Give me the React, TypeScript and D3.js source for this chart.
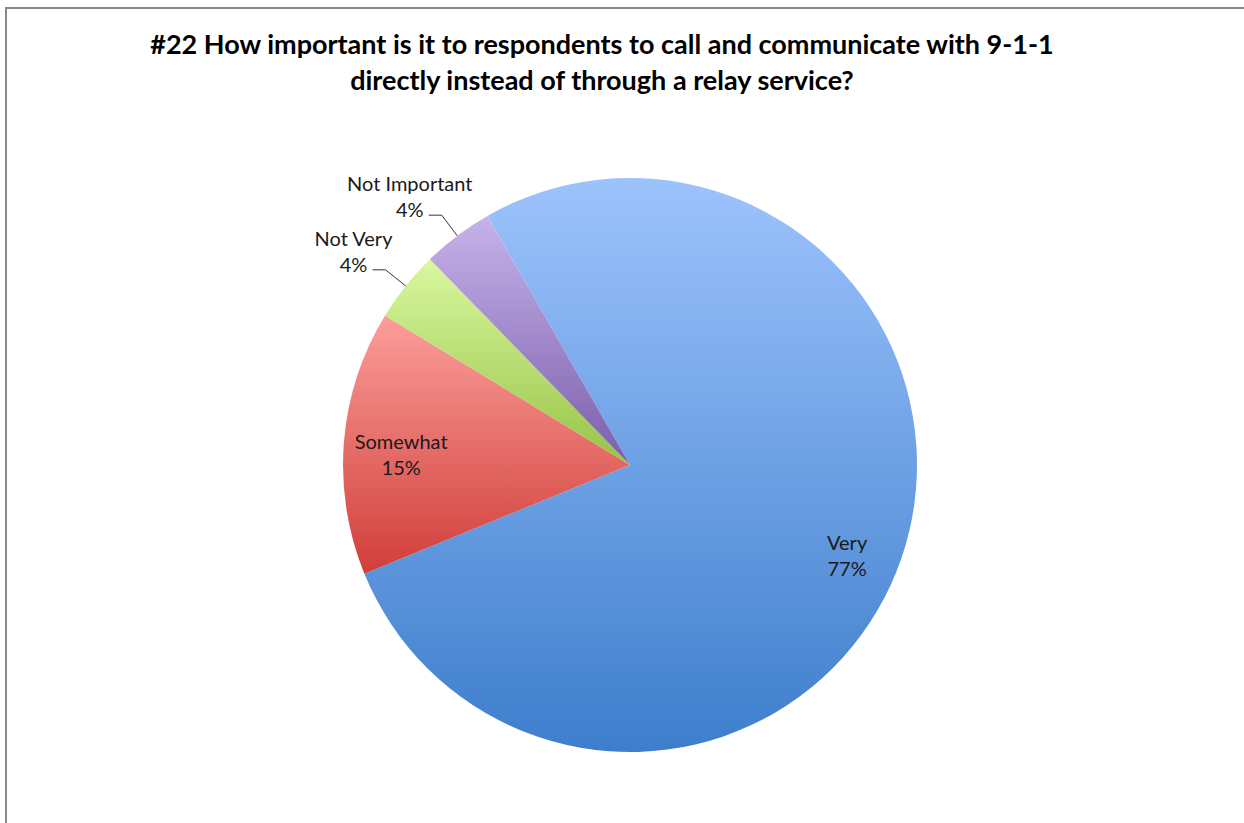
import React, { useEffect, useRef } from "react";
import * as d3 from "d3";

const W = 1244;
const H = 823;

const titleLines = [
  "#22 How important is it to respondents to call and communicate with 9-1-1",
  "directly instead of through a relay service?",
];

const categories = ["Very", "Somewhat", "Not Very", "Not Important"];
const values = [77.1, 14.9, 4.0, 4.0];
const labelTexts = ["77%", "15%", "4%", "4%"];
const outsideLabel = [false, false, true, true];
const topColors = ["#9dc3fc", "#fb9e9a", "#d9f8a0", "#c7b2ea"];
const bottomColors = ["#3d7ecc", "#d13e3a", "#97c346", "#7a5eab"];

const START_DEG = -29.8;

export default function App() {
  const ref = useRef<SVGSVGElement | null>(null);

  useEffect(() => {
    document.body.style.margin = "0";
    const svg = d3.select(ref.current);
    svg.selectAll("*").remove();

    const font = "Lato, 'Open Sans', sans-serif";
    const cx = 630;
    const cy = 465;
    const r = 287;

    const defs = svg.append("defs");
    categories.forEach((c, i) => {
      const g = defs
        .append("linearGradient")
        .attr("id", "grad" + i)
        .attr("x1", 0)
        .attr("y1", 0)
        .attr("x2", 0)
        .attr("y2", 1);
      g.append("stop").attr("offset", "0%").attr("stop-color", topColors[i]);
      g.append("stop").attr("offset", "100%").attr("stop-color", bottomColors[i]);
    });

    svg
      .append("rect")
      .attr("x", 0)
      .attr("y", 0)
      .attr("width", W)
      .attr("height", H)
      .attr("fill", "#ffffff");

    svg
      .append("rect")
      .attr("x", 6)
      .attr("y", 8)
      .attr("width", W + 20)
      .attr("height", H + 20)
      .attr("fill", "none")
      .attr("stroke", "#888888")
      .attr("stroke-width", 2);

    const title = svg
      .append("text")
      .attr("text-anchor", "middle")
      .attr("font-family", font)
      .attr("font-weight", "bold")
      .attr("font-size", 27)
      .attr("fill", "#000");
    titleLines.forEach((t, i) => {
      title
        .append("tspan")
        .attr("x", 602)
        .attr("y", 54 + i * 36)
        .text(t);
    });

    const start = (START_DEG * Math.PI) / 180;
    const pie = d3
      .pie<number>()
      .sort(null)
      .value((d) => d)
      .startAngle(start)
      .endAngle(start + 2 * Math.PI);
    const arcs = pie(values);
    const arc = d3.arc<d3.PieArcDatum<number>>().innerRadius(0).outerRadius(r);

    const g = svg.append("g").attr("transform", `translate(${cx},${cy})`);
    g.selectAll("path.slice")
      .data(arcs)
      .enter()
      .append("path")
      .attr("class", "slice")
      .attr("d", arc as any)
      .attr("fill", (_d, i) => `url(#grad${i})`);

    const inLabelArc = d3
      .arc<d3.PieArcDatum<number>>()
      .innerRadius(r * 0.8)
      .outerRadius(r * 0.8);
    const labelDy = [8, 0];

    arcs.forEach((a, i) => {
      if (!outsideLabel[i]) {
        const [x, y0] = inLabelArc.centroid(a);
        const y = y0 + labelDy[i];
        const t = g
          .append("text")
          .attr("text-anchor", "middle")
          .attr("font-family", font)
          .attr("font-size", 20)
          .attr("fill", "#1a1a1a");
        t.append("tspan").attr("x", x).attr("y", y + 2).text(categories[i]);
        t.append("tspan").attr("x", x).attr("y", y + 28).text(labelTexts[i]);
      } else {
        const mid = (a.startAngle + a.endAngle) / 2;
        const ex = Math.sin(mid) * r;
        const ey = -Math.cos(mid) * r;
        const kx = Math.sin(mid) * r * 1.09;
        const ky = -Math.cos(mid) * r * 1.09;
        const hx = kx - 13;
        g.append("path")
          .attr("d", `M${ex},${ey}L${kx},${ky}L${hx},${ky}`)
          .attr("fill", "none")
          .attr("stroke", "#333")
          .attr("stroke-width", 1);
        const center = hx - 19;
        const t = g
          .append("text")
          .attr("text-anchor", "middle")
          .attr("font-family", font)
          .attr("font-size", 20)
          .attr("fill", "#1a1a1a");
        t.append("tspan").attr("x", center).attr("y", ky - 24).text(categories[i]);
        t.append("tspan").attr("x", center).attr("y", ky + 2).text(labelTexts[i]);
      }
    });
  }, []);

  return (
    <svg
      ref={ref}
      width={W}
      height={H}
      style={{ position: "absolute", left: 0, top: 0, display: "block" }}
    />
  );
}
